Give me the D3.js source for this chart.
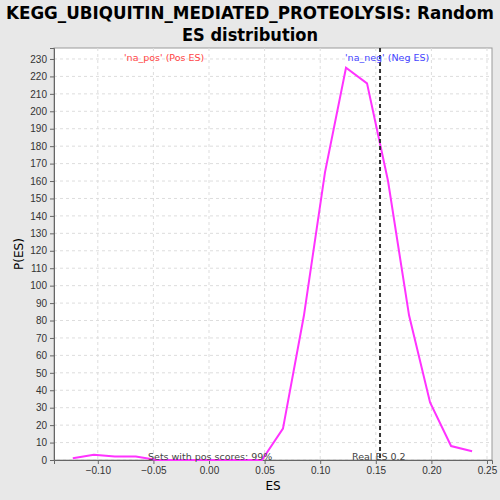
<!DOCTYPE html>
<html><head><meta charset="utf-8">
<script src="https://cdn.jsdelivr.net/npm/d3@7"></script>
<style>body{margin:0;background:#e8e8e8;font-family:"DejaVu Sans",sans-serif}</style>
</head><body>
<script>
var esValues = [-0.1225,-0.1036,-0.0847,-0.0658,-0.0469,-0.028,-0.0091,0.0098,0.0287,0.0476,0.0665,0.0854,0.1043,0.1232,0.1421,0.161,0.1799,0.1988,0.2177,0.2366];
var density = [1,3,2,2,0,0,0,0,0,0,18,83,165,225,216,160,83,33,8,5];
var realES = 0.1538;
var xTicks = [-0.10,-0.05,0.00,0.05,0.10,0.15,0.20,0.25];
var yTicks = d3.range(0, 231, 10);

var width = 500, height = 500;
var margin = {left: 54, right: 8, top: 48, bottom: 40};

var svg = d3.select("body").append("svg")
    .attr("width", width).attr("height", height);

svg.append("text").attr("x", 250).attr("y", 19).attr("text-anchor", "middle")
    .style("font-size", "17px").style("font-weight", "bold")
    .attr("textLength", 488).attr("lengthAdjust", "spacingAndGlyphs")
    .text("KEGG_UBIQUITIN_MEDIATED_PROTEOLYSIS: Random");
svg.append("text").attr("x", 250).attr("y", 41).attr("text-anchor", "middle")
    .style("font-size", "17px").style("font-weight", "bold")
    .attr("textLength", 136).attr("lengthAdjust", "spacingAndGlyphs")
    .text("ES distribution");

var x = d3.scaleLinear().domain([-0.1394, 0.2545]).range([margin.left, width - margin.right]);
var y = d3.scaleLinear().domain([0, 236.3]).range([height - margin.bottom, margin.top]);

svg.append("rect").attr("x", margin.left).attr("y", margin.top)
    .attr("width", width - margin.left - margin.right)
    .attr("height", height - margin.top - margin.bottom)
    .attr("fill", "#fff").attr("stroke", "#999");

var g = svg.append("g");
g.selectAll(".gx").data(xTicks).enter().append("line")
    .attr("x1", d => x(d)).attr("x2", d => x(d))
    .attr("y1", margin.top).attr("y2", height - margin.bottom)
    .attr("stroke", "#ddd").attr("stroke-dasharray", "3,3");
g.selectAll(".gy").data(yTicks).enter().append("line")
    .attr("x1", margin.left).attr("x2", width - margin.right)
    .attr("y1", d => y(d)).attr("y2", d => y(d))
    .attr("stroke", "#ddd").attr("stroke-dasharray", "3,3");

var xa = svg.append("g").attr("transform", "translate(0," + (height - margin.bottom) + ")")
    .call(d3.axisBottom(x).tickValues(xTicks).tickFormat(d3.format(".2f")).tickSize(4));
var ya = svg.append("g").attr("transform", "translate(" + margin.left + ",0)")
    .call(d3.axisLeft(y).tickValues(yTicks).tickSize(4));
[xa, ya].forEach(a => {
  a.selectAll("text").style("font-size", "10px").attr("fill", "#333");
  a.selectAll("line,path").attr("stroke", "#666");
});

svg.append("text").attr("x", 273).attr("y", 490).attr("text-anchor", "middle")
    .style("font-size", "12px").text("ES");
svg.append("text").attr("transform", "translate(23,254) rotate(-90)").attr("text-anchor", "middle")
    .style("font-size", "12px").text("P(ES)");

svg.append("path").datum(d3.zip(esValues, density))
    .attr("fill", "none").attr("stroke", "#ff33ff").attr("stroke-width", 2)
    .attr("d", d3.line().x(d => x(d[0])).y(d => y(d[1])));

svg.append("line").attr("x1", x(realES)).attr("x2", x(realES))
    .attr("y1", margin.top).attr("y2", height - margin.bottom)
    .attr("stroke", "#333").attr("stroke-width", 2).attr("stroke-dasharray", "4,3");

svg.append("text").attr("x", 124).attr("y", 61).style("font-size", "9.5px")
    .attr("fill", "#ff4444").text("'na_pos' (Pos ES)");
svg.append("text").attr("x", 345).attr("y", 61).style("font-size", "9.5px")
    .attr("fill", "#4444ff").text("'na_neg' (Neg ES)");
svg.append("text").attr("x", 148).attr("y", 460).style("font-size", "9.5px")
    .attr("fill", "#444").text("Sets with pos scores: 99%");
svg.append("text").attr("x", 352).attr("y", 460).style("font-size", "9.5px")
    .attr("fill", "#444").text("Real ES 0.2");
</script>
</body></html>
